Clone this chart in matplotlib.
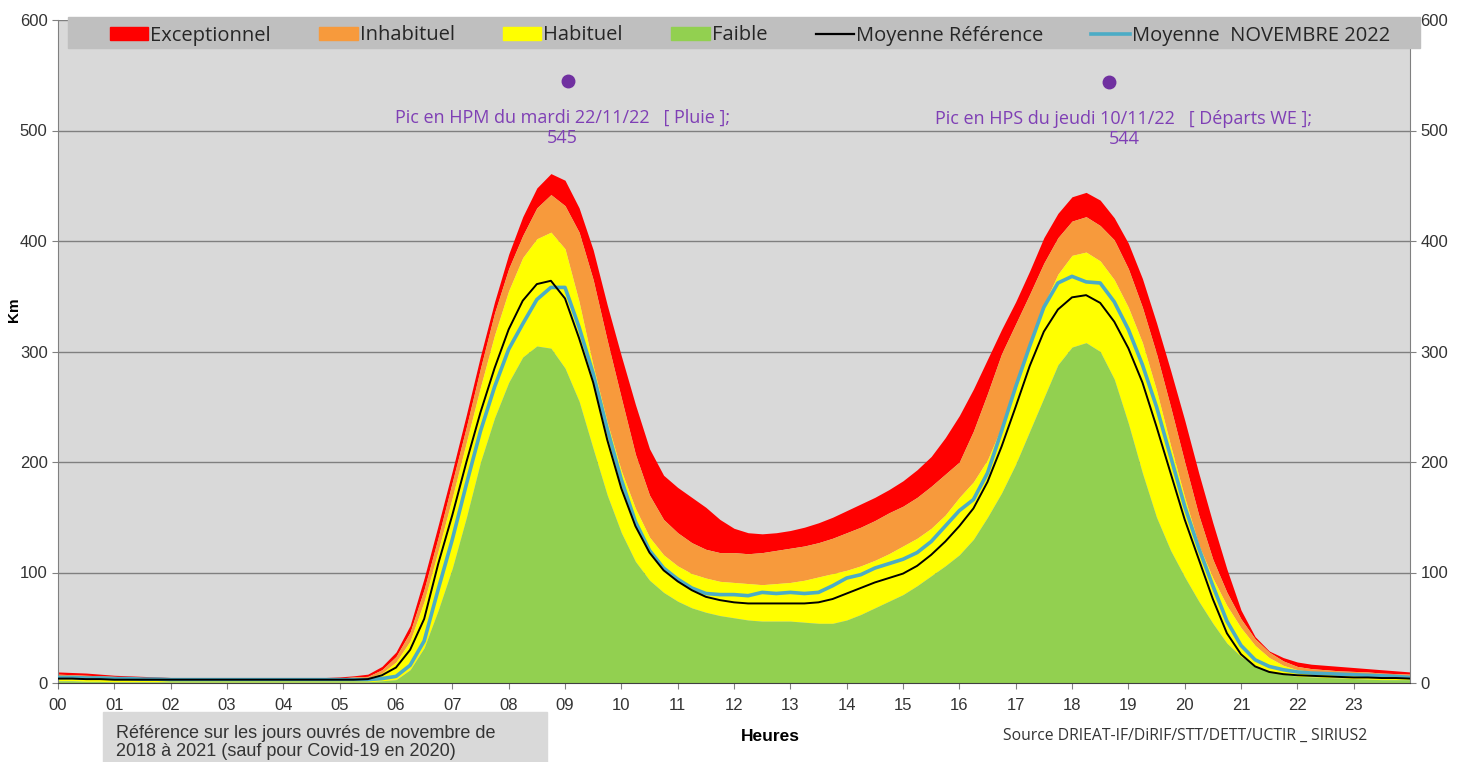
import matplotlib.pyplot as plt
import numpy as np
from matplotlib.lines import Line2D
from matplotlib.patches import Patch, Rectangle


# Quarter-hour grid from 00:00 to 24:00 (97 points)
HOURS = np.arange(97) * 0.25

# Upper bound of each band (km of congestion), one row per hour
EXCEPTIONNEL = [
    10, 9.5, 9, 8,  7, 6.5, 6, 5.5,  5, 5, 5, 5,  5, 5, 5, 5,
    5, 5, 5, 5,  5.5, 6.5, 8, 15,  28, 52, 95, 143,  192, 243, 296, 345,
    388, 422, 448, 461,  455, 430, 392, 342,  296, 252, 212, 188,
    177, 168, 159, 148,  140, 136, 135, 136,  138, 141, 145, 150,
    156, 162, 168, 175,  183, 193, 205, 222,  242, 266, 293, 320,
    345, 373, 403, 425,  440, 444, 437, 421,  398, 366, 326, 283,
    238, 190, 145, 103,  66, 42, 29, 23,  19, 17, 16, 15,  14, 13, 12, 11,
    10,
]
INHABITUEL = [
    8, 7.5, 7, 6.5,  6, 5.5, 5, 4.5,  4, 4, 4, 4,  4, 4, 4, 4,
    4, 4, 4, 4,  4.5, 5.5, 6, 12,  24, 46, 85, 132,  182, 232, 285, 335,
    375, 405, 430, 442,  432, 408, 365, 310,  258, 207, 170, 148,
    136, 127, 121, 118,  118, 117, 118, 120,  122, 124, 127, 131,
    136, 141, 147, 154,  160, 168, 178, 189,  200, 228, 262, 298,
    325, 352, 380, 403,  418, 422, 414, 401,  375, 340, 298, 250,
    200, 152, 112, 82,  58, 40, 28, 20,  15, 13, 12, 11,  10.5, 10, 9, 8.5,
    8,
]
HABITUEL = [
    6, 5.5, 5, 4.5,  4, 3.5, 3, 3,  3, 3, 3, 3,  3, 3, 3, 3,
    3, 3, 3, 3,  3, 3.5, 4.5, 9,  19, 38, 74, 120,  168, 218, 268, 315,
    355, 385, 402, 408,  393, 345, 287, 236,  192, 158, 132, 116,
    106, 99, 95, 92,  91, 90, 89, 90,  91, 93, 96, 99,
    102, 106, 111, 117,  124, 131, 140, 152,  168, 182, 202, 232,
    265, 305, 342, 370,  387, 390, 382, 365,  340, 308, 265, 215,
    168, 125, 95, 70,  50, 34, 23, 16,  12, 10.5, 9, 8.5,  8, 7.5, 7, 6.5,
    6,
]
FAIBLE = [
    2, 2, 1.5, 1.5,  1, 1, 1, 1,  1, 1, 1, 1,  1, 1, 1, 1,
    1, 1, 1, 1,  1, 1, 1, 2,  3, 12, 32, 66,  104, 150, 200, 240,
    272, 295, 305, 303,  285, 255, 212, 170,  136, 110, 93, 82,
    74, 68, 64, 61,  59, 57, 56, 56,  56, 55, 54, 54,
    57, 62, 68, 74,  80, 88, 97, 106,  116, 130, 150, 172,
    198, 228, 258, 288,  304, 308, 300, 275,  235, 190, 150, 120,
    96, 74, 54, 36,  24, 16, 11, 8,  6, 5.5, 5, 4.5,  4, 3.5, 3, 3,
    3,
]
MOY_REF = [
    4, 4, 3.5, 3.5,  3, 3, 3, 3,  3, 3, 3, 3,  3, 3, 3, 3,
    3, 3, 3, 3,  3, 3, 3.5, 7,  14, 30, 58, 108,  152, 200, 245, 285,
    320, 346, 361, 364,  348, 312, 272, 220,  176, 142, 118, 102,
    92, 84, 78, 75,  73, 72, 72, 72,  72, 72, 73, 76,
    81, 86, 91, 95,  99, 106, 116, 128,  142, 158, 182, 214,
    250, 287, 318, 338,  349, 351, 344, 327,  303, 272, 232, 190,
    148, 112, 76, 45,  26, 15, 10, 8,  7, 6.5, 6, 5.5,  5, 5, 4.5, 4.5,
    4,
]
MOY_NOV_2022 = [
    5, 5, 4.5, 4.5,  4, 4, 3.5, 3.5,  3, 3, 3, 3,  3, 3, 3, 3,
    3, 3, 3, 3,  3, 3, 3, 4,  6, 16, 38, 85,  130, 180, 228, 268,
    302, 325, 347, 358,  358, 322, 280, 230,  184, 146, 120, 104,
    94, 86, 81, 80,  80, 79, 82, 81,  82, 81, 82, 88,
    95, 98, 104, 108,  112, 118, 128, 142,  156, 166, 190, 228,
    268, 305, 340, 362,  368, 363, 362, 345,  320, 288, 250, 205,
    160, 122, 88, 56,  34, 21, 15, 12,  10, 9, 8.5, 8,  7.5, 7, 6.5, 6,
    5,
]

# Record peaks of the month
PEAK_HOURS = [9.05, 18.65]
PEAK_VALUES = [545, 544]
PEAK_LABELS = [
    "Pic en HPM du mardi 22/11/22   [ Pluie ];\n545",
    "Pic en HPS du jeudi 10/11/22   [ Départs WE ];\n544",
]

HOUR_LABELS = [f"{h:02d}" for h in range(24)]

C_RED = "#ff0000"
C_ORANGE = "#f79a3c"
C_YELLOW = "#ffff00"
C_GREEN = "#92d050"
C_CYAN = "#4bacc6"
C_PURPLE = "#7030a0"

fig = plt.figure(figsize=(14.72, 7.62), dpi=100)
ax = fig.add_axes([58 / 1472, 79 / 762, 1352 / 1472, 663 / 762])
ax.set_facecolor("#d9d9d9")

ax.fill_between(HOURS, INHABITUEL, EXCEPTIONNEL, color=C_RED, lw=0, zorder=2)
ax.fill_between(HOURS, HABITUEL, INHABITUEL, color=C_ORANGE, lw=0, zorder=2)
ax.fill_between(HOURS, FAIBLE, HABITUEL, color=C_YELLOW, lw=0, zorder=2)
ax.fill_between(HOURS, 0, FAIBLE, color=C_GREEN, lw=0, zorder=2)
ax.plot(HOURS, MOY_REF, color="black", lw=1.4, zorder=4,
        solid_joinstyle="round")
ax.plot(HOURS, MOY_NOV_2022, color=C_CYAN, lw=2.6, zorder=3,
        solid_joinstyle="round")

# peak markers + labels
offsets = [(-4, -20), (11, -20)]
for h, v, lab, off in zip(PEAK_HOURS, PEAK_VALUES, PEAK_LABELS, offsets):
    ax.plot(h, v, "o", color=C_PURPLE, ms=9, zorder=5)
    ax.annotate(lab, (h, v), xytext=off, textcoords="offset points",
                ha="center", va="top", color="#7f3fb5", fontsize=13,
                family="Open Sans", linespacing=1.15,
                multialignment="center")

ax.set_xlim(0, 24)
ax.set_ylim(0, 600)
ax.set_xticks(np.arange(24))
ax.set_xticklabels(HOUR_LABELS)
ax.set_yticks(np.arange(0, 601, 100))
ax.yaxis.grid(True, color="#7f7f7f", lw=1.0)
ax.set_axisbelow(True)
ax.tick_params(axis="both", direction="out", length=4, color="#808080",
               labelsize=12, labelcolor="#333333")
ax.tick_params(axis="x", pad=7)
ax.tick_params(axis="y", right=True, labelright=True)
for lab in ax.get_xticklabels() + ax.get_yticklabels():
    lab.set_family("Liberation Sans")
for lab in ax.yaxis.get_ticklabels(which="both"):
    lab.set_family("Liberation Sans")

ax.spines["top"].set_visible(False)
for s in ("left", "right"):
    ax.spines[s].set_color("#808080")
ax.spines["bottom"].set_color("#404040")

ax.set_ylabel("Km", fontsize=11, fontweight="bold", family="Liberation Sans")
ax.yaxis.set_label_coords(-0.027, 0.563)
ax.set_xlabel("Heures", fontsize=12.5, fontweight="bold",
              family="Liberation Sans")
ax.xaxis.set_label_coords(0.527, -0.069)

# legend band across the top
ax.add_patch(Rectangle((10 / 1352, 635 / 663), 1352 / 1352, 31 / 663,
                       transform=ax.transAxes, color="#bfbfbf", zorder=6,
                       clip_on=False))
handles = [
    Patch(color=C_RED, label="Exceptionnel"),
    Patch(color=C_ORANGE, label="Inhabituel"),
    Patch(color=C_YELLOW, label="Habituel"),
    Patch(color=C_GREEN, label="Faible"),
    Line2D([], [], color="black", lw=1.6, label="Moyenne Référence"),
    Line2D([], [], color=C_CYAN, lw=2.6, label="Moyenne  NOVEMBRE 2022"),
]
leg = ax.legend(handles=handles, ncol=6, mode="expand", loc="center left",
                bbox_to_anchor=(52 / 1352, 632 / 663, 1280 / 1352, 31 / 663),
                borderaxespad=0, borderpad=0, handlelength=1.9,
                handleheight=0.6, handletextpad=0.1, frameon=False,
                prop={"family": "Open Sans", "size": 14.5})
leg.set_zorder(7)
for t in leg.get_texts():
    t.set_color("#262626")

# footnote box bottom-left
fig.patches.append(Rectangle((103 / 1472, 0), 444 / 1472, 50 / 762,
                             transform=fig.transFigure, color="#d9d9d9",
                             zorder=0))
fig.text(116 / 1472, 37 / 762,
         "Référence sur les jours ouvrés de novembre de\n"
         "2018 à 2021 (sauf pour Covid-19 en 2020)",
         ha="left", va="top", fontsize=13, family="Liberation Sans",
         color="#333333", linespacing=1.05)
fig.text(1003 / 1472, 26 / 762,
         "Source DRIEAT-IF/DiRIF/STT/DETT/UCTIR _ SIRIUS2",
         ha="left", va="center", fontsize=11.3, family="Open Sans",
         color="#333333")

fig.savefig("out.png", dpi=100, facecolor="white")
